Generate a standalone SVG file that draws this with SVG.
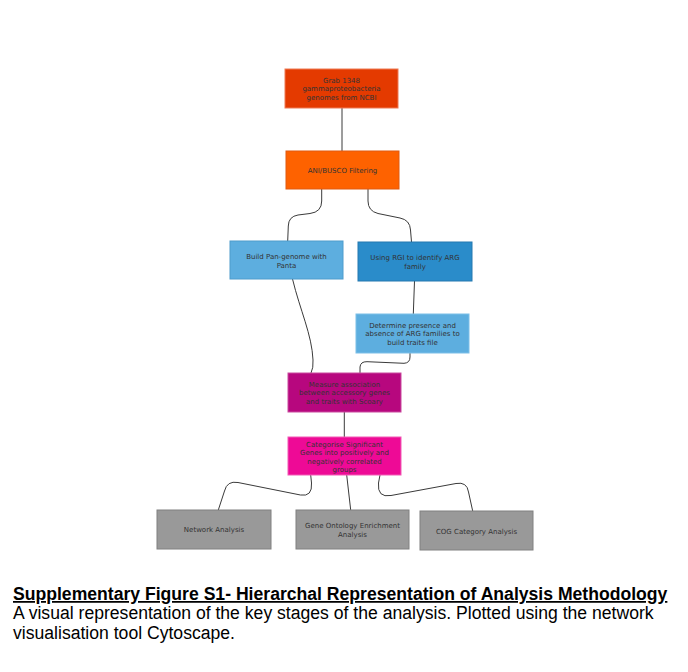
<svg xmlns="http://www.w3.org/2000/svg" width="688" height="672" viewBox="0 0 688 672">
<style>
  .edge { fill: none; stroke: #3a3a3a; stroke-width: 1; }
  .lbl { font-family: "DejaVu Sans", "Liberation Sans", sans-serif; font-size: 7px; fill: #333333; text-anchor: middle; }
  .box { stroke-width: 1; }
  .grey { fill: #999999; stroke: #808080; }
  .cap { font-family: "Liberation Sans", Arial, sans-serif; font-size: 17.6px; fill: #000000; }
</style>
<rect width="688" height="672" fill="#ffffff"/>
<g id="connectors">
  <path class="edge" d="M342,108 L342,151"/>
  <path class="edge" d="M321.7,189 L321.7,201 Q321.7,212 310,213.5 L298,215 Q288.5,216.5 288.3,226 L287.7,241"/>
  <path class="edge" d="M368,189 L368,201 Q368,211 378,213.5 L400,218 Q410,220 410.5,230 L411.5,242"/>
  <path class="edge" d="M414.5,281 L413.3,314"/>
  <path class="edge" d="M292.5,279 C300,310 312,335 313,360 Q313.5,368 311,373"/>
  <path class="edge" d="M410,353 L410,357 Q410,363 404,363.3 L367,361.7 Q360.5,361.5 360,367 L360,373"/>
  <path class="edge" d="M344.3,412 L344.3,437"/>
  <path class="edge" d="M310.7,475 L311.5,483 Q312.5,497 300.5,495 L238,482.5 Q227,480.5 224.5,491 L218.3,510"/>
  <path class="edge" d="M346.7,475 L350.7,510"/>
  <path class="edge" d="M380,475 L378.5,483 Q377,498 391,495.5 L456,483.5 Q467,481.5 468.5,492 L472.7,511"/>
</g>
<g id="node-grab">
  <rect class="box" x="285" y="69" width="113" height="39" fill="#E43A00" stroke="#EE7A55"/>
  <text class="lbl" x="341.5" y="82.5">Grab 1348</text>
  <text class="lbl" x="341.5" y="91">gammaproteobacteria</text>
  <text class="lbl" x="341.5" y="99.5">genomes from NCBI</text>
</g>
<g id="node-filter">
  <rect class="box" x="286" y="151" width="113" height="38" fill="#FE6200" stroke="#E05A10"/>
  <text class="lbl" x="342.5" y="172.5">ANI/BUSCO Filtering</text>
</g>
<g id="node-pangenome">
  <rect class="box" x="230" y="241" width="113" height="38" fill="#5DAEDF" stroke="#4E9CCC"/>
  <text class="lbl" x="286.5" y="258.5">Build Pan-genome with</text>
  <text class="lbl" x="286.5" y="267.5">Panta</text>
</g>
<g id="node-rgi">
  <rect class="box" x="358" y="242" width="114" height="39" fill="#2A8CCA" stroke="#2479B0"/>
  <text class="lbl" x="415" y="260">Using RGI to identify ARG</text>
  <text class="lbl" x="415" y="268.5">family</text>
</g>
<g id="node-traits">
  <rect class="box" x="356" y="314" width="113" height="39" fill="#5DAEDF" stroke="#7DBFE8"/>
  <text class="lbl" x="412.5" y="327.5">Determine presence and</text>
  <text class="lbl" x="412.5" y="336">absence of ARG families to</text>
  <text class="lbl" x="412.5" y="344.5">build traits file</text>
</g>
<g id="node-scoary">
  <rect class="box" x="288" y="373" width="113" height="39" fill="#B7077E" stroke="#C94A9E"/>
  <text class="lbl" x="344.5" y="386.5">Measure association</text>
  <text class="lbl" x="344.5" y="395">between accessory genes</text>
  <text class="lbl" x="344.5" y="403.5">and traits with Scoary</text>
</g>
<g id="node-categorise">
  <rect class="box" x="288" y="437" width="113" height="38" fill="#EE0A96" stroke="#F25AB5"/>
  <text class="lbl" x="344.5" y="446.5">Categorise Significant</text>
  <text class="lbl" x="344.5" y="455">Genes into positively and</text>
  <text class="lbl" x="344.5" y="463.5">negatively correlated</text>
  <text class="lbl" x="344.5" y="472">groups</text>
</g>
<g id="node-network">
  <rect class="box grey" x="157" y="510" width="114" height="39"/>
  <text class="lbl" x="214" y="532">Network Analysis</text>
</g>
<g id="node-go">
  <rect class="box grey" x="296" y="510" width="113" height="39"/>
  <text class="lbl" x="352.5" y="528">Gene Ontology Enrichment</text>
  <text class="lbl" x="352.5" y="537">Analysis</text>
</g>
<g id="node-cog">
  <rect class="box grey" x="420" y="511" width="113" height="39"/>
  <text class="lbl" x="476.5" y="533.5">COG Category Analysis</text>
</g>
<g id="caption">
  <text class="cap" x="13" y="600" font-weight="bold" text-decoration="underline">Supplementary Figure S1- Hierarchal Representation of Analysis Methodology</text>
  <text class="cap" x="13" y="619">A visual representation of the key stages of the analysis. Plotted using the network</text>
  <text class="cap" x="13" y="639">visualisation tool Cytoscape.</text>
</g>
</svg>
